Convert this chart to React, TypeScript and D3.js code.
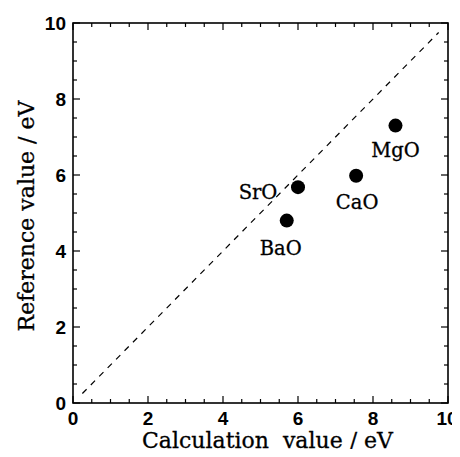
import React, { useEffect, useRef } from 'react';
import * as d3 from 'd3';

// data
const compounds = ['MgO', 'CaO', 'SrO', 'BaO'];
const calcValues = [8.6, 7.55, 6.0, 5.7];
const refValues = [7.3, 5.98, 5.68, 4.8];
const majorTicks = [0, 2, 4, 6, 8, 10];
const minorTicks = d3.range(0, 10.01, 0.5);
const diagonal = [0.25, 9.75];
// label offsets relative to the point (px)
const labelDx = [0, 1, -40, -6];
const labelDy = [31, 33, 12, 34];

const App = () => {
  const ref = useRef<SVGSVGElement>(null);

  useEffect(() => {
    const width = 460;
    const height = 457;
    const margin = { top: 23, right: 12, bottom: 54, left: 73 };

    const svg = d3.select(ref.current);
    svg.selectAll('*').remove();

    const x = d3.scaleLinear().domain([0, 10]).range([margin.left, width - margin.right]);
    const y = d3.scaleLinear().domain([0, 10]).range([height - margin.bottom, margin.top]);

    const x0 = x(0), x1 = x(10), y0 = y(0), y1 = y(10);

    // frame
    svg.append('rect')
      .attr('x', x0).attr('y', y1)
      .attr('width', x1 - x0).attr('height', y0 - y1)
      .attr('fill', 'none').attr('stroke', '#000').attr('stroke-width', 1.6);

    // ticks, all pointing inward
    const g = svg.append('g').attr('stroke', '#000').attr('stroke-width', 1.2);
    minorTicks.forEach(v => {
      const major = majorTicks.includes(v);
      const len = major ? 7 : 4;
      g.append('line').attr('x1', x(v)).attr('x2', x(v)).attr('y1', y0).attr('y2', y0 - len);
      g.append('line').attr('x1', x(v)).attr('x2', x(v)).attr('y1', y1).attr('y2', y1 + len);
      g.append('line').attr('y1', y(v)).attr('y2', y(v)).attr('x1', x0).attr('x2', x0 + len);
      g.append('line').attr('y1', y(v)).attr('y2', y(v)).attr('x1', x1).attr('x2', x1 - len);
    });

    // tick labels
    const tickFont = "'Liberation Sans', Arial, sans-serif";
    svg.append('g').selectAll('text').data(majorTicks).enter().append('text')
      .attr('x', d => x(d) - (d === 10 ? 1 : 0)).attr('y', y0 + 22)
      .attr('text-anchor', 'middle')
      .attr('font-family', tickFont).attr('font-weight', 'bold').attr('font-size', 19)
      .text(d => d);
    svg.append('g').selectAll('text').data(majorTicks).enter().append('text')
      .attr('x', x0 - 7).attr('y', d => y(d) + 7)
      .attr('text-anchor', 'end')
      .attr('font-family', tickFont).attr('font-weight', 'bold').attr('font-size', 19)
      .text(d => d);

    // diagonal dashed line
    svg.append('line')
      .attr('x1', x(diagonal[0])).attr('y1', y(diagonal[0]))
      .attr('x2', x(diagonal[1])).attr('y2', y(diagonal[1]))
      .attr('stroke', '#000').attr('stroke-width', 1.2)
      .attr('stroke-dasharray', '6,6');

    // points
    svg.append('g').selectAll('circle').data(compounds).enter().append('circle')
      .attr('cx', (_, i) => x(calcValues[i]))
      .attr('cy', (_, i) => y(refValues[i]))
      .attr('r', 7)
      .attr('fill', '#000');

    // point labels
    const serif = "'DejaVu Serif', 'Liberation Serif', serif";
    svg.append('g').selectAll('text').data(compounds).enter().append('text')
      .attr('x', (_, i) => x(calcValues[i]) + labelDx[i])
      .attr('y', (_, i) => y(refValues[i]) + labelDy[i])
      .attr('text-anchor', 'middle')
      .attr('font-family', serif).attr('font-size', 19.5)
      .attr('stroke', '#000').attr('stroke-width', 0.3)
      .text(d => d);

    // axis titles
    svg.append('text')
      .attr('x', 142).attr('y', 448)
      .attr('font-family', serif).attr('font-size', 22)
      .attr('stroke', '#000').attr('stroke-width', 0.3)
      .style('white-space', 'pre')
      .text('Calculation  value / eV');
    svg.append('text')
      .attr('transform', `translate(34,216) rotate(-90)`)
      .attr('text-anchor', 'middle')
      .attr('font-family', serif).attr('font-size', 22)
      .attr('stroke', '#000').attr('stroke-width', 0.3)
      .text('Reference value / eV');
  }, []);

  return (
    <div style={{ margin: -8 }}>
      <svg ref={ref} width={460} height={457} style={{ display: 'block', background: '#fff' }} />
    </div>
  );
};

export default App;
